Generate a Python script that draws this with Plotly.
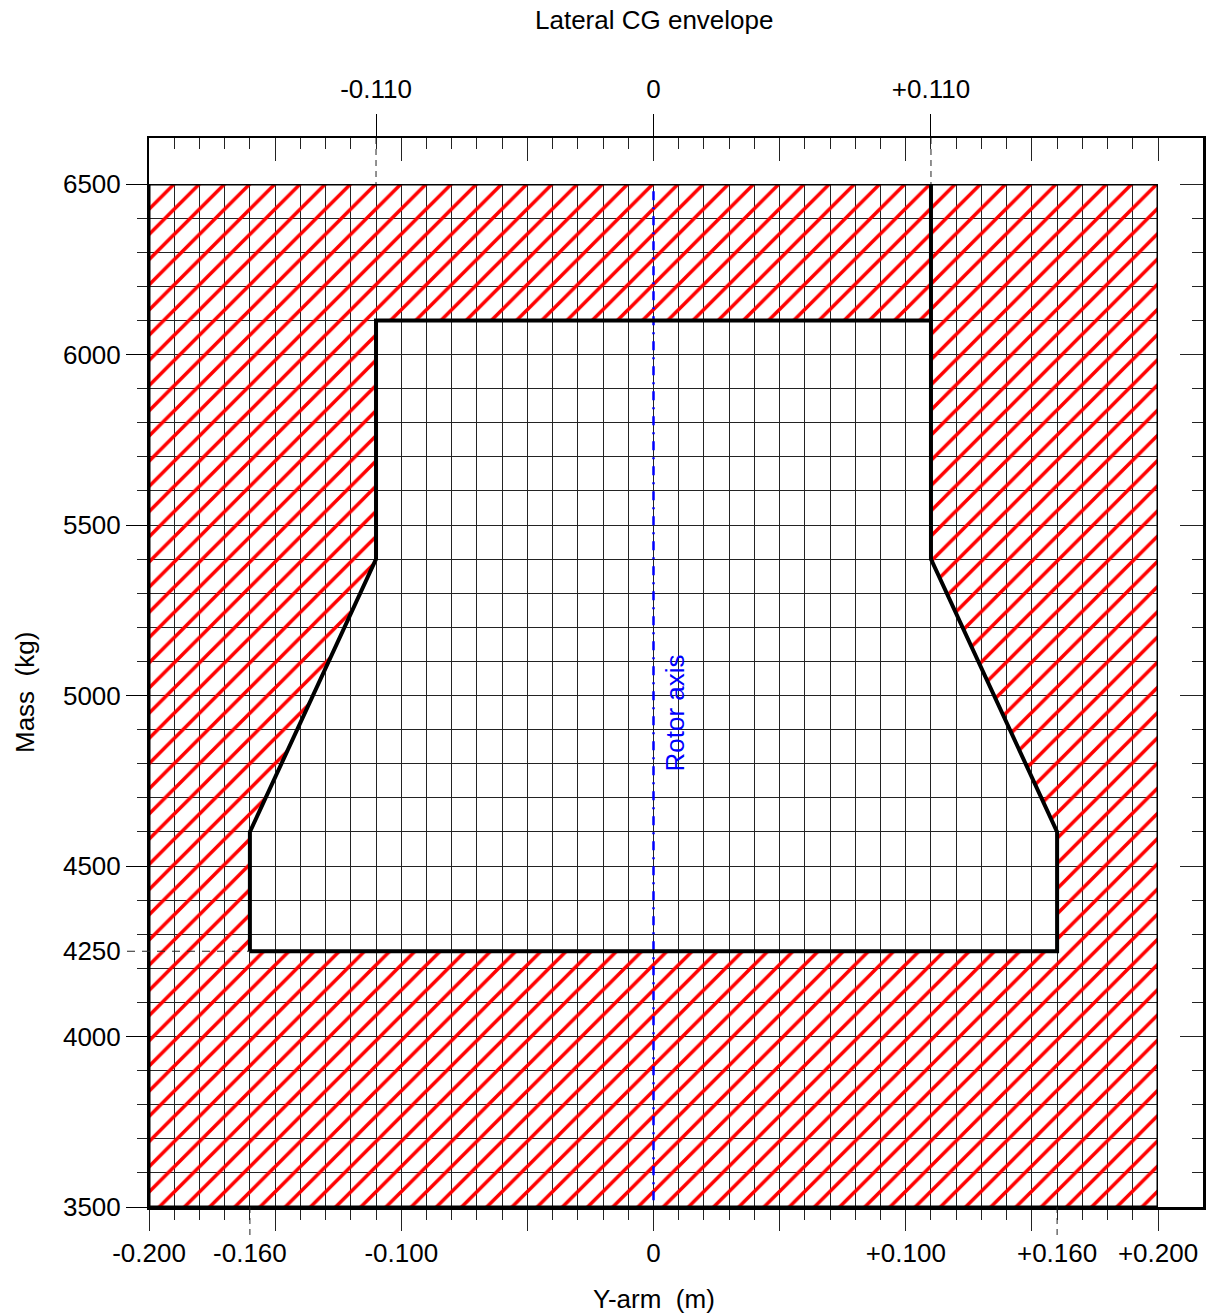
import plotly.graph_objects as go

# ---------------- data ----------------
y_arm_min, y_arm_max = -0.200, 0.200
mass_min, mass_max = 3500, 6500

env_y_arm = [-0.160, -0.160, -0.110, -0.110, 0.110, 0.110, 0.160, 0.160]
env_mass = [4250, 4600, 5400, 6100, 6100, 5400, 4600, 4250]

bottom_tick_vals = [-0.200, -0.100, 0.0, 0.100, 0.200]
bottom_tick_text = ["-0.200", "-0.100", "0", "+0.100", "+0.200"]
bottom_mark_vals = [-0.160, 0.160]
bottom_mark_text = ["-0.160", "+0.160"]
top_tick_vals = [-0.110, 0.0, 0.110]
top_tick_text = ["-0.110", "0", "+0.110"]
mass_tick_vals = [3500, 4000, 4500, 5000, 5500, 6000, 6500]
mass_tick_text = ["3500", "4000", "4500", "5000", "5500", "6000", "6500"]
mass_mark_vals = [4250]
mass_mark_text = ["4250"]
rotor_axis_y_arm = 0.0
lat_limit_y_arm = 0.110

# ---------------- layout geometry (pixels) ----------------
W, H = 1211, 1315
PX_L, PX_R, PX_FR = 149, 1158, 1203     # plot left, plot right, frame right
PX_T, PX_B, PX_FT = 184, 1207, 138      # plot top, plot bottom, frame top
sx = (PX_R - PX_L) / (y_arm_max - y_arm_min)
sy = (PX_B - PX_T) / (mass_max - mass_min)
x_frame_max = y_arm_max + (PX_FR - PX_R) / sx
m_frame_max = mass_max + (PX_T - PX_FT) / sy

def fx(px):
    return px / W

def fy(py):
    return 1 - py / H

minor_x = [round(y_arm_min + 0.01 * i, 2) for i in range(41)]
major_x = [round(y_arm_min + 0.05 * i, 2) for i in range(9)]
minor_m = [mass_min + 100 * i for i in range(31)]
major_m = [mass_min + 500 * i for i in range(7)]

FONT = "Liberation Sans, Arial, sans-serif"
FS = 26
GRID = "rgb(35,35,35)"

fig = go.Figure()

# hatched (forbidden) region = outer rectangle minus envelope
hx = [y_arm_min, y_arm_max, y_arm_max, y_arm_min, y_arm_min] + env_y_arm + [env_y_arm[0], y_arm_min, y_arm_min]
hy = [mass_min, mass_min, mass_max, mass_max, env_mass[0]] + env_mass + [env_mass[0], env_mass[0], mass_min]
fig.add_trace(go.Scatter(
    x=hx, y=hy, mode="lines", fill="toself", line=dict(width=0, color="rgba(0,0,0,0)"),
    fillcolor="rgba(0,0,0,0)",
    fillpattern=dict(shape="/", fgcolor="#ff0000", bgcolor="rgba(0,0,0,0)", fgopacity=1,
                     size=25.2 / 2 ** 0.5, solidity=0.2, fillmode="overlay"),
    hoverinfo="skip", showlegend=False))

# rotor axis
fig.add_trace(go.Scatter(
    x=[rotor_axis_y_arm, rotor_axis_y_arm], y=[mass_min + 20, mass_max], mode="lines",
    line=dict(color="#0000ff", width=2.5, dash="9px,7px,2px,7px"),
    hoverinfo="skip", showlegend=False))

# outer rectangle
fig.add_trace(go.Scatter(
    x=[y_arm_min, y_arm_max, y_arm_max, y_arm_min, y_arm_min],
    y=[mass_min, mass_min, mass_max, mass_max, mass_min],
    mode="lines", line=dict(color="black", width=3), hoverinfo="skip", showlegend=False))

# envelope outline
fig.add_trace(go.Scatter(
    x=env_y_arm + [env_y_arm[0]], y=env_mass + [env_mass[0]],
    mode="lines", line=dict(color="black", width=4), hoverinfo="skip", showlegend=False))
fig.add_trace(go.Scatter(
    x=[lat_limit_y_arm, lat_limit_y_arm], y=[max(env_mass), mass_max],
    mode="lines", line=dict(color="black", width=4), hoverinfo="skip", showlegend=False))

# dummy traces to activate auxiliary axes
for xa, ya in [("x2", "y2"), ("x3", "y2"), ("x4", "y"), ("x5", "y"), ("x", "y3"), ("x", "y4")]:
    fig.add_trace(go.Scatter(x=[], y=[], xaxis=xa, yaxis=ya, showlegend=False, hoverinfo="skip"))

xdom = [fx(PX_L), fx(PX_R)]
ydom = [fy(PX_B), fy(PX_T)]
tickfont = dict(family=FONT, size=FS, color="black")
common = dict(automargin=False, zeroline=False, fixedrange=True)

fig.update_layout(
    width=W, height=H, margin=dict(l=0, r=0, t=0, b=0, pad=0, autoexpand=False),
    paper_bgcolor="white", plot_bgcolor="rgba(0,0,0,0)", showlegend=False,
    font=dict(family=FONT, size=FS, color="black"),
    xaxis=dict(domain=xdom, range=[y_arm_min, y_arm_max], anchor="y",
               tickmode="array", tickvals=minor_x, ticks="outside", ticklen=12, tickwidth=1,
               tickcolor=GRID, showticklabels=False, showgrid=True, gridcolor=GRID, gridwidth=1,
               showline=False, **common),
    yaxis=dict(domain=ydom, range=[mass_min, mass_max], anchor="x",
               tickmode="array", tickvals=minor_m, ticks="outside", ticklen=11, tickwidth=1,
               tickcolor=GRID, showticklabels=False, showgrid=True, gridcolor=GRID, gridwidth=1,
               showline=False, **common),
    xaxis4=dict(overlaying="x", anchor="y", side="bottom", range=[y_arm_min, y_arm_max],
                tickmode="array", tickvals=bottom_tick_vals + [v for v in major_x if v not in bottom_tick_vals],
                ticktext=bottom_tick_text + ["" for v in major_x if v not in bottom_tick_vals],
                ticks="outside", ticklen=23, tickwidth=1, tickcolor=GRID, tickfont=tickfont,
                showgrid=False, showline=False, **common),
    xaxis5=dict(overlaying="x", anchor="y", side="bottom", range=[y_arm_min, y_arm_max],
                tickmode="array", tickvals=bottom_mark_vals, ticktext=bottom_mark_text,
                ticks="outside", ticklen=23, tickcolor="rgba(0,0,0,0)", tickfont=tickfont,
                showgrid=False, showline=False, **common),
    yaxis3=dict(overlaying="y", anchor="x", side="left", range=[mass_min, mass_max],
                tickmode="array", tickvals=mass_tick_vals, ticktext=mass_tick_text,
                ticks="outside", ticklen=22, tickwidth=1, tickcolor="black", tickfont=tickfont,
                showgrid=False, showline=False, **common),
    yaxis4=dict(overlaying="y", anchor="x", side="left", range=[mass_min, mass_max],
                tickmode="array", tickvals=mass_mark_vals, ticktext=mass_mark_text,
                ticks="outside", ticklen=22, tickcolor="rgba(0,0,0,0)", tickfont=tickfont,
                showgrid=False, showline=False, **common),
    xaxis2=dict(domain=[fx(PX_L), fx(PX_FR)], range=[y_arm_min, x_frame_max], anchor="y2", side="top",
                tickmode="array", tickvals=major_x, ticks="inside", ticklen=23, tickwidth=1,
                tickcolor=GRID, showticklabels=False,
                minor=dict(tickmode="array", tickvals=minor_x, ticks="inside", ticklen=11,
                           tickwidth=1, tickcolor=GRID, showgrid=False),
                showgrid=False, showline=True, mirror=True, linecolor="black",
                linewidth=2.5, **common),
    yaxis2=dict(domain=[fy(PX_B), fy(PX_FT)], range=[mass_min, m_frame_max], anchor="x2", side="right",
                tickmode="array", tickvals=major_m, ticks="inside", ticklen=23, tickwidth=1,
                tickcolor=GRID, showticklabels=False,
                minor=dict(tickmode="array", tickvals=minor_m, ticks="inside", ticklen=11,
                           tickwidth=1, tickcolor=GRID, showgrid=False),
                showgrid=False, showline=True, mirror=True, linecolor="black",
                linewidth=2.5, **common),
    xaxis3=dict(overlaying="x2", anchor="y2", side="top", range=[y_arm_min, x_frame_max],
                tickmode="array", tickvals=top_tick_vals, ticktext=top_tick_text,
                ticks="outside", ticklen=23, tickwidth=1, tickcolor="black", tickfont=tickfont,
                ticklabelstandoff=6, showgrid=False, showline=False, **common),
)

shapes = []
# dashed extensions of the special ticks
for v in top_tick_vals:
    if v != rotor_axis_y_arm:
        shapes.append(dict(type="line", xref="x", yref="paper", x0=v, x1=v, y0=fy(PX_FT), y1=fy(PX_T),
                           line=dict(color=GRID, width=1, dash="6px,5px")))
for v in bottom_mark_vals:
    shapes.append(dict(type="line", xref="x", yref="paper", x0=v, x1=v, y0=fy(PX_B), y1=fy(PX_B + 32),
                       line=dict(color=GRID, width=1, dash="6px,5px")))
for v in mass_mark_vals:
    shapes.append(dict(type="line", xref="paper", yref="y", x0=fx(PX_L - 22),
                       x1=fx(PX_L + (env_y_arm[0] - y_arm_min) * sx), y0=v, y1=v,
                       line=dict(color=GRID, width=1, dash="8px,7px")))
fig.update_layout(shapes=shapes)

fig.add_annotation(text="Lateral CG envelope", xref="paper", yref="paper",
                   x=fx(PX_L + (0 - y_arm_min) * sx), y=fy(20), xanchor="center", yanchor="middle",
                   showarrow=False, font=dict(family=FONT, size=FS, color="black"))
fig.add_annotation(text="Y-arm\u00a0\u00a0(m)", xref="paper", yref="paper",
                   x=fx(PX_L + (0 - y_arm_min) * sx), y=fy(1299), xanchor="center", yanchor="middle",
                   showarrow=False, font=dict(family=FONT, size=FS, color="black"))
fig.add_annotation(text="Mass\u00a0\u00a0(kg)", xref="paper", yref="paper",
                   x=fx(25), y=fy(693), xanchor="center", yanchor="middle", textangle=-90,
                   showarrow=False, font=dict(family=FONT, size=FS, color="black"))
fig.add_annotation(text="Rotor axis", xref="x", yref="y",
                   x=0.0085, y=4950, xanchor="center", yanchor="middle", textangle=-90,
                   showarrow=False, font=dict(family=FONT, size=FS, color="#0000ff"))

fig.write_html("out.html", config={"displayModeBar": False, "staticPlot": True},
               post_script="document.body.style.margin='0';document.body.style.overflow='hidden';")
